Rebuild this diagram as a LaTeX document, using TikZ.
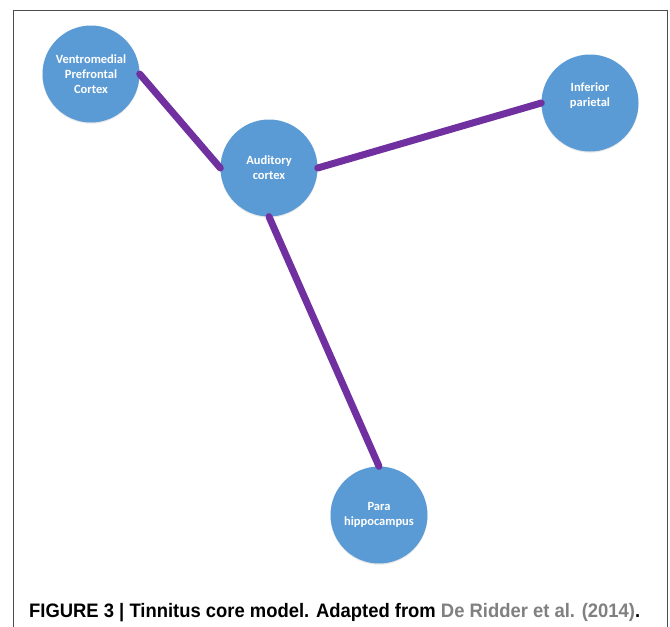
\documentclass[tikz,border=0pt]{standalone}
\usepackage{fontspec}
\setmainfont{Liberation Sans}
\newfontfamily\bubblefont{Carlito}
\usetikzlibrary{shadows}
\definecolor{bubbleblue}{HTML}{5B9BD5}
\definecolor{linkpurple}{HTML}{7030A0}
\definecolor{citegray}{HTML}{808080}
\begin{document}
\begin{tikzpicture}[x=1pt,y=-1pt,
  bubbletext/.style={text=white, align=center,
    font=\bubblefont\bfseries\fontsize{12.5}{15}\selectfont},
  region/.style={circle, fill=bubbleblue, minimum size=97pt, inner sep=0pt, bubbletext,
    drop shadow={shadow xshift=0pt, shadow yshift=-1.2pt, opacity=0.18}},
  link/.style={draw=linkpurple, line width=7pt, line cap=round}]
\useasboundingbox (0,0) rectangle (670,627);
\fill[white] (0,0) rectangle (670,627);
% frame, open at the bottom
\draw[line width=0.9pt, black!70] (13,627) -- (13,10) -- (667,10) -- (667,627);
% regions
\node[region] (vmpfc) at (91,74) {Ventromedial\\Prefrontal\\Cortex};
\node[region] (aud) at (269,168) {Auditory\\cortex};
\node[region] (ip) at (590,103) {};
\node[bubbletext] (iplabel) at (590,96) {Inferior\\parietal};
\node[region] (para) at (379,515) {Para\\hippocampus};
% connections
\draw[link] (vmpfc.east) -- (aud.west);
\draw[link] (aud.east) -- (ip.west);
\draw[link] (aud.south) -- (para.north);
% caption, set condensed to the frame width
\node[anchor=base west, inner sep=0pt] (caption) at (29,617)
  {\resizebox{611pt}{\height}{\fontsize{19.5}{22}\selectfont\bfseries FIGURE 3 | Tinnitus core model. Adapted from \textcolor{citegray}{De Ridder et al. (2014)}.}};
\end{tikzpicture}
\end{document}
